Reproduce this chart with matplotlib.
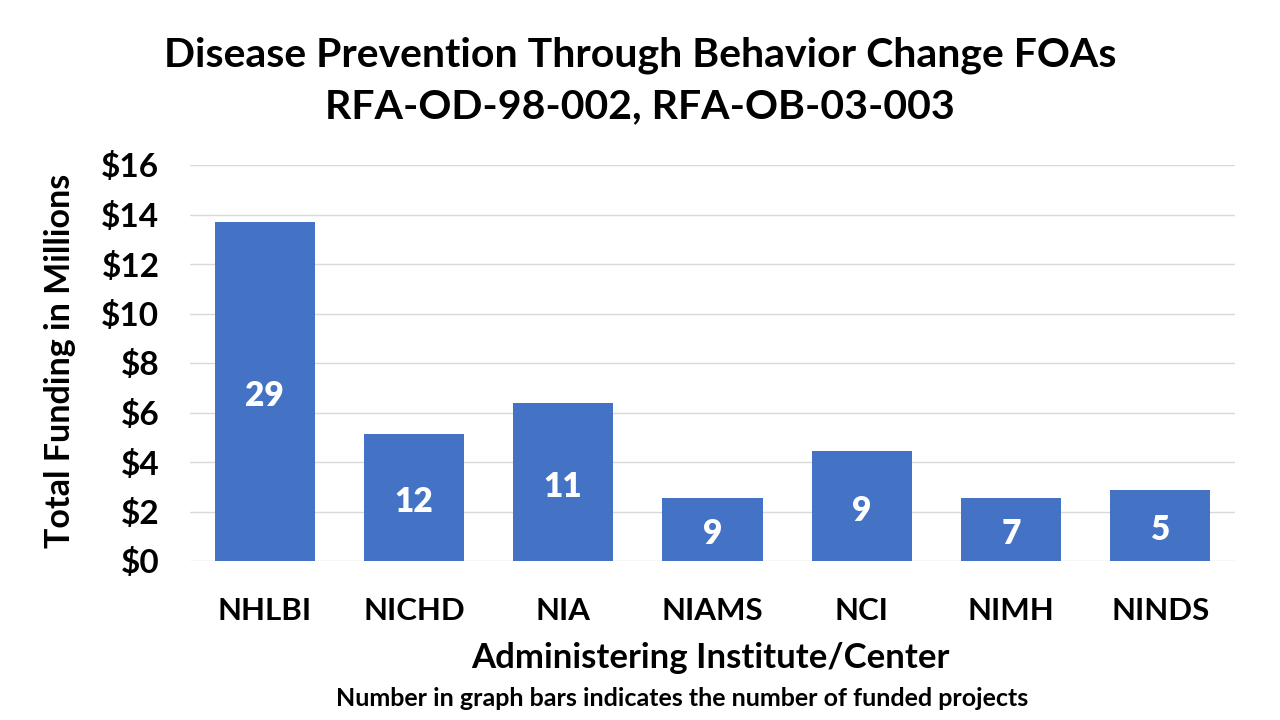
import matplotlib
matplotlib.use("Agg")
import matplotlib.pyplot as plt
from matplotlib.ticker import FuncFormatter

categories = ["NHLBI", "NICHD", "NIA", "NIAMS", "NCI", "NIMH", "NINDS"]
funding = [13.7, 5.13, 6.38, 2.55, 4.44, 2.55, 2.87]
projects = [29, 12, 11, 9, 9, 7, 5]
yticks = [0, 2, 4, 6, 8, 10, 12, 14, 16]

plt.rcParams['font.family'] = ['Lato', 'DejaVu Sans']
plt.rcParams['font.weight'] = 'bold'

fig = plt.figure(figsize=(12.8, 7.2), dpi=100)
ax = fig.add_axes([190/1280, 1 - 561/720, 1045/1280, (561-165)/720])

x = range(len(categories))
ax.bar(x, funding, width=0.67, color="#4472C4", zorder=2)
for xi, v, n in zip(x, funding, projects):
    ax.annotate(str(n), (xi, v/2), xytext=(0, -3.5), textcoords='offset points',
                ha='center', va='center', color='white',
                fontsize=24, fontweight='heavy', zorder=3)

ax.set_xlim(-0.5, len(categories) - 0.5)
ax.set_ylim(0, 16)
ax.set_yticks(yticks)
ax.yaxis.set_major_formatter(FuncFormatter(lambda v, p: f"${v:.0f}"))
ax.set_xticks(list(x))
ax.set_xticklabels(categories)
ax.tick_params(axis='both', length=0)
ax.tick_params(axis='x', pad=26, labelsize=22.5)
ax.tick_params(axis='y', pad=22, labelsize=24)
for s in ax.spines.values():
    s.set_visible(False)
ax.grid(axis='y', color='#D9D9D9', linewidth=1, zorder=0)
ax.set_axisbelow(True)

fig.text(60/1280, 1 - 361/720, "Total Funding in Millions", rotation=90,
         ha='center', va='center', fontsize=24.5, fontweight='bold')
fig.text(710/1280, 1 - 658/720, "Administering Institute/Center",
         ha='center', va='center', fontsize=25, fontweight='bold')

fig.text(0.5, 1 - 55/720, "Disease Prevention Through Behavior Change FOAs",
         ha='center', va='center', fontsize=29.5, fontweight='bold')
fig.text(0.5, 1 - 107/720, "RFA-OD-98-002, RFA-OB-03-003",
         ha='center', va='center', fontsize=29.5, fontweight='bold')
fig.text(682/1280, 1 - 699/720, "Number in graph bars indicates the number of funded projects",
         ha='center', va='center', fontsize=18, fontweight='bold')

fig.savefig("out.png", dpi=100)
